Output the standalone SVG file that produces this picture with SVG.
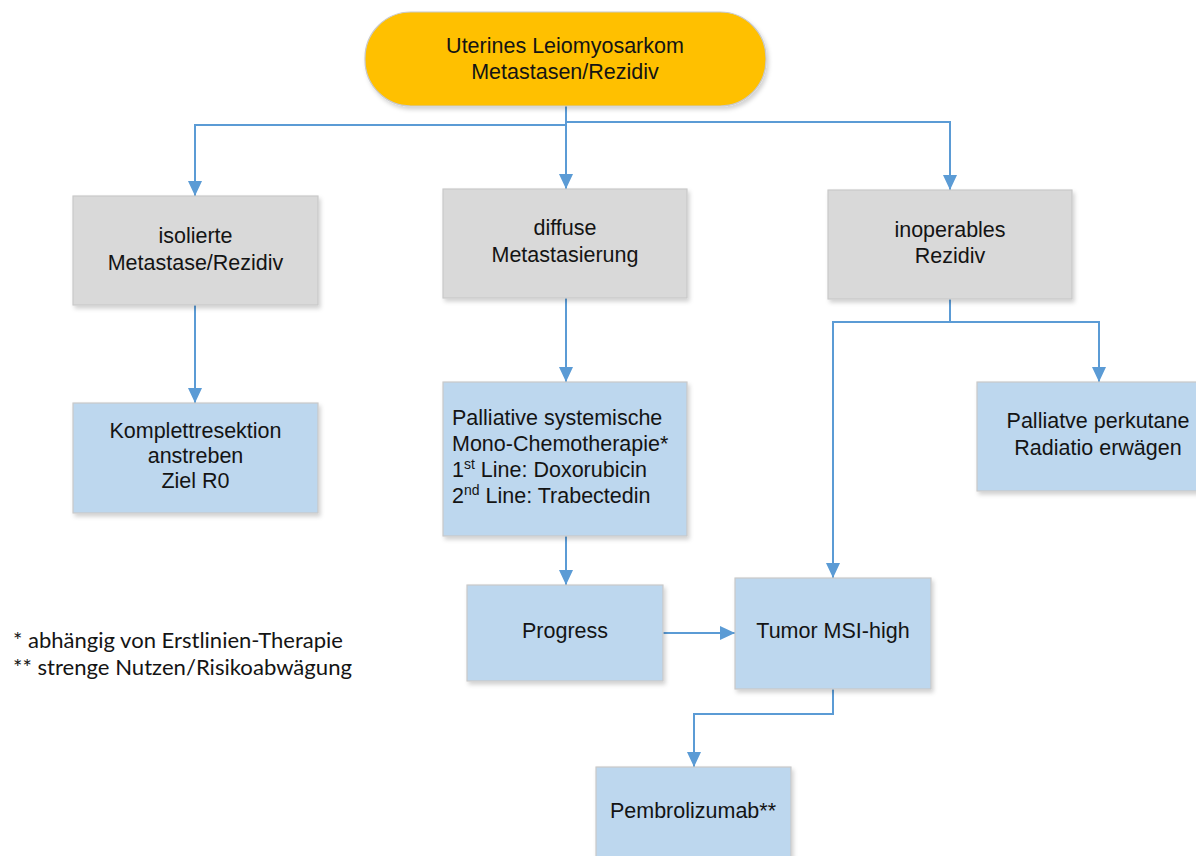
<svg xmlns="http://www.w3.org/2000/svg" width="1196" height="856" viewBox="0 0 1196 856">
<defs>
<filter id="sh" x="-10%" y="-10%" width="130%" height="130%">
<feDropShadow dx="2" dy="3" stdDeviation="2" flood-color="#000" flood-opacity="0.18"/>
</filter>
<marker id="ah" markerUnits="userSpaceOnUse" markerWidth="16" markerHeight="15" refX="15" refY="7" orient="auto">
<path d="M0,0 L15,7 L0,14 z" fill="#5B9BD5"/>
</marker>
<style>
.n{stroke:#C9C9C9;stroke-width:1.2;filter:url(#sh)}
.o{fill:#FFC000}
.g{fill:#D9D9D9}
.b{fill:#BDD7EE}
.t{font-family:"Liberation Sans",Arial,sans-serif;font-size:21.5px;fill:#141414;text-anchor:middle}
.l{text-anchor:start}
.f{font-family:Lato,"Liberation Sans",sans-serif;font-size:21px;fill:#141414}
.c{fill:none;stroke:#5B9BD5;stroke-width:2}
</style>
</defs>
<rect width="1196" height="856" fill="#FFFFFF"/>
<g id="connectors">
<path class="c" d="M566,106 V189" marker-end="url(#ah)"/>
<path class="c" d="M566,125 H195 V196" marker-end="url(#ah)"/>
<path class="c" d="M566,122 H950 V190" marker-end="url(#ah)"/>
<path class="c" d="M195,305 V403" marker-end="url(#ah)"/>
<path class="c" d="M566,298 V382" marker-end="url(#ah)"/>
<path class="c" d="M566,536 V585" marker-end="url(#ah)"/>
<path class="c" d="M950,299 V322 H833 V578" marker-end="url(#ah)"/>
<path class="c" d="M950,322 H1099 V382" marker-end="url(#ah)"/>
<path class="c" d="M663,633 H735" marker-end="url(#ah)"/>
<path class="c" d="M833,689 V714 H694 V767" marker-end="url(#ah)"/>
</g>
<g id="n-top">
<rect class="n o" x="365" y="12" width="401" height="94" rx="46" ry="46"/>
<text class="t" x="565" y="53">Uterines Leiomyosarkom</text>
<text class="t" x="565" y="79">Metastasen/Rezidiv</text>
</g>
<g id="n-isoliert">
<rect class="n g" x="73" y="196" width="245" height="109"/>
<text class="t" x="195.5" y="243">isolierte</text>
<text class="t" x="195.5" y="270">Metastase/Rezidiv</text>
</g>
<g id="n-diffus">
<rect class="n g" x="443" y="189" width="244" height="109"/>
<text class="t" x="565" y="235">diffuse</text>
<text class="t" x="565" y="262">Metastasierung</text>
</g>
<g id="n-inoperabel">
<rect class="n g" x="828" y="190" width="244" height="109"/>
<text class="t" x="950" y="237">inoperables</text>
<text class="t" x="950" y="263">Rezidiv</text>
</g>
<g id="n-resektion">
<rect class="n b" x="73" y="403" width="245" height="110"/>
<text class="t" x="195.5" y="438">Komplettresektion</text>
<text class="t" x="195.5" y="463">anstreben</text>
<text class="t" x="195.5" y="488">Ziel R0</text>
</g>
<g id="n-chemo">
<rect class="n b" x="443" y="382" width="244" height="154"/>
<text class="t l" x="452" y="425">Palliative systemische</text>
<text class="t l" x="452" y="451">Mono-Chemotherapie*</text>
<text class="t l" x="452" y="477">1<tspan font-size="14" dy="-8">st</tspan><tspan dy="8"> Line: Doxorubicin</tspan></text>
<text class="t l" x="452" y="503">2<tspan font-size="14" dy="-8">nd</tspan><tspan dy="8"> Line: Trabectedin</tspan></text>
</g>
<g id="n-radiatio">
<rect class="n b" x="977" y="382" width="244" height="109"/>
<text class="t" x="1098" y="428">Palliatve perkutane</text>
<text class="t" x="1098" y="455">Radiatio erwägen</text>
</g>
<g id="n-progress">
<rect class="n b" x="467" y="585" width="196" height="96"/>
<text class="t" x="565" y="638">Progress</text>
</g>
<g id="n-msi">
<rect class="n b" x="735" y="578" width="196" height="111"/>
<text class="t" x="833" y="638">Tumor MSI-high</text>
</g>
<g id="n-pembro">
<rect class="n b" x="596" y="767" width="195" height="100"/>
<text class="t" x="693" y="818">Pembrolizumab**</text>
</g>
<g id="footnotes">
<text class="f" x="13" y="648" textLength="330" lengthAdjust="spacingAndGlyphs">* abhängig von Erstlinien-Therapie</text>
<text class="f" x="13" y="675" textLength="339" lengthAdjust="spacingAndGlyphs">** strenge Nutzen/Risikoabwägung</text>
</g>
</svg>
